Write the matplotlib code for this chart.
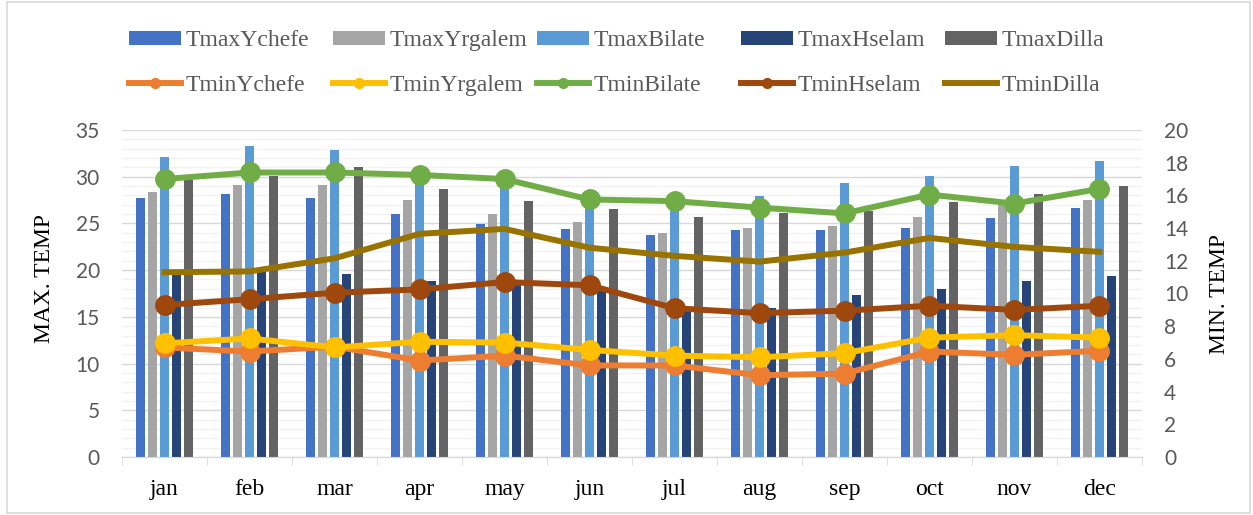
import numpy as np
import matplotlib.pyplot as plt
from matplotlib.patches import Rectangle
from matplotlib.lines import Line2D

months = ['jan', 'feb', 'mar', 'apr', 'may', 'jun', 'jul', 'aug', 'sep', 'oct', 'nov', 'dec']

# maximum temperature (left axis)
tmax_ychefe = [27.7, 28.2, 27.7, 26.0, 24.9, 24.4, 23.8, 24.3, 24.3, 24.5, 25.6, 26.6]
tmax_yrgalem = [28.4, 29.1, 29.1, 27.5, 26.0, 25.2, 24.0, 24.5, 24.7, 25.7, 27.0, 27.5]
tmax_bilate = [32.1, 33.3, 32.9, 29.9, 30.0, 27.5, 27.2, 27.9, 29.3, 30.1, 31.1, 31.7]
tmax_hselam = [19.6, 19.8, 19.6, 18.8, 18.6, 17.9, 15.8, 16.0, 17.3, 18.0, 18.8, 19.4]
tmax_dilla = [29.6, 30.1, 31.0, 28.7, 27.4, 26.5, 25.7, 26.1, 26.3, 27.3, 28.2, 29.0]

# minimum temperature (right axis)
tmin_ychefe = [6.7, 6.45, 6.75, 5.9, 6.2, 5.6, 5.6, 5.0, 5.1, 6.45, 6.25, 6.5]
tmin_yrgalem = [6.95, 7.25, 6.7, 7.05, 7.0, 6.55, 6.2, 6.1, 6.35, 7.3, 7.45, 7.3]
tmin_bilate = [17.0, 17.4, 17.4, 17.25, 17.0, 15.75, 15.65, 15.25, 14.9, 16.05, 15.5, 16.4]
tmin_hselam = [9.3, 9.65, 10.05, 10.25, 10.7, 10.5, 9.1, 8.8, 8.95, 9.25, 9.0, 9.25]
tmin_dilla = [11.3, 11.35, 12.15, 13.65, 13.95, 12.8, 12.3, 11.95, 12.5, 13.4, 12.85, 12.55]

stations = ['Ychefe', 'Yrgalem', 'Bilate', 'Hselam', 'Dilla']
tmax_all = [tmax_ychefe, tmax_yrgalem, tmax_bilate, tmax_hselam, tmax_dilla]
tmin_all = [tmin_ychefe, tmin_yrgalem, tmin_bilate, tmin_hselam, tmin_dilla]
bar_colors = ['#4472C4', '#A5A5A5', '#5B9BD5', '#264478', '#636363']
line_colors = ['#ED7D31', '#FFC000', '#70AD47', '#9E480E', '#997300']
has_marker = [True, True, True, True, False]

serif = 'Liberation Serif'
sans = 'Lato'
txt_gray = '#595959'

fig = plt.figure(figsize=(12.53, 5.15), dpi=100)
ax = fig.add_axes([0.0974, 0.1126, 0.8140, 0.6350])
ax2 = ax.twinx()

x = np.arange(len(months))
bar_w = 0.11
step = 0.141
bar_handles = []
for i, (vals, col) in enumerate(zip(tmax_all, bar_colors)):
    b = ax.bar(x + (i - 2) * step, vals, width=bar_w, color=col, zorder=3,
               label='Tmax' + stations[i])
    bar_handles.append(b)

line_handles = []
for i, (vals, col) in enumerate(zip(tmin_all, line_colors)):
    ax2.plot(x, vals, color=col, lw=4.3, zorder=3,
             marker='o' if has_marker[i] else None, markersize=14)
    line_handles.append(Line2D([], [], color=col, lw=4.3,
                               marker='o' if has_marker[i] else None, markersize=7))

# left axis
ax.set_ylim(0, 35)
ax.set_yticks(np.arange(0, 36, 5))
ax.set_yticks(np.arange(0, 36, 1), minor=True)
ax.grid(axis='y', which='major', color='#d9d9d9', lw=1.0, zorder=0)
ax.grid(axis='y', which='minor', color='#f2f2f2', lw=1.0, zorder=0)
ax.set_xlim(-0.5, 11.5)
ax.set_xticks(x)
ax.set_xticklabels(months, fontfamily=serif, fontsize=17, color='black')
ax.set_xticks(np.arange(-0.5, 12, 1), minor=True)
ax.tick_params(axis='x', which='major', length=0, pad=16)
ax.tick_params(axis='x', which='minor', length=6, color='#d9d9d9')
ax.tick_params(axis='y', which='both', length=0, pad=16, labelsize=15, labelcolor=txt_gray)
for lab in ax.get_yticklabels():
    lab.set_fontfamily(sans)
ax.set_axisbelow(True)

# right axis
ax2.set_ylim(0, 20)
ax2.set_yticks(np.arange(0, 21, 2))
ax2.tick_params(axis='y', length=0, pad=16, labelsize=15, labelcolor=txt_gray)
for lab in ax2.get_yticklabels():
    lab.set_fontfamily(sans)

for a in (ax, ax2):
    for s in ['top', 'left', 'right']:
        a.spines[s].set_visible(False)
    a.spines['bottom'].set_color('#d9d9d9')

ax.set_ylabel('MAX. TEMP', fontfamily=serif, fontsize=17, color='black')
ax.yaxis.set_label_coords(-0.0657, 0.547)
ax2.set_ylabel('MIN. TEMP', fontfamily=serif, fontsize=17, color='black')
ax2.yaxis.set_label_coords(1.0657, 0.498)

# legend: one block per station, two rows (Tmax bar, Tmin line)
col_left = [129, 333, 537, 741, 945]
for i in range(5):
    leg = fig.legend(handles=[bar_handles[i], line_handles[i]],
                     labels=['Tmax' + stations[i], 'Tmin' + stations[i]],
                     loc='upper left', bbox_to_anchor=(col_left[i] / 1253, 1 - 30 / 515),
                     frameon=False, prop={'family': serif, 'size': 17},
                     handlelength=2.2, handleheight=0.55, handletextpad=0.2,
                     labelspacing=1.0, borderaxespad=0, borderpad=0)
    for t in leg.get_texts():
        t.set_color(txt_gray)

fig.patches.append(Rectangle((7 / 1253, 2 / 515), 1 - 10 / 1253, 1 - 4 / 515,
                             transform=fig.transFigure, fill=False,
                             edgecolor='#d9d9d9', lw=1.2))

fig.savefig('out.png', dpi=100)
